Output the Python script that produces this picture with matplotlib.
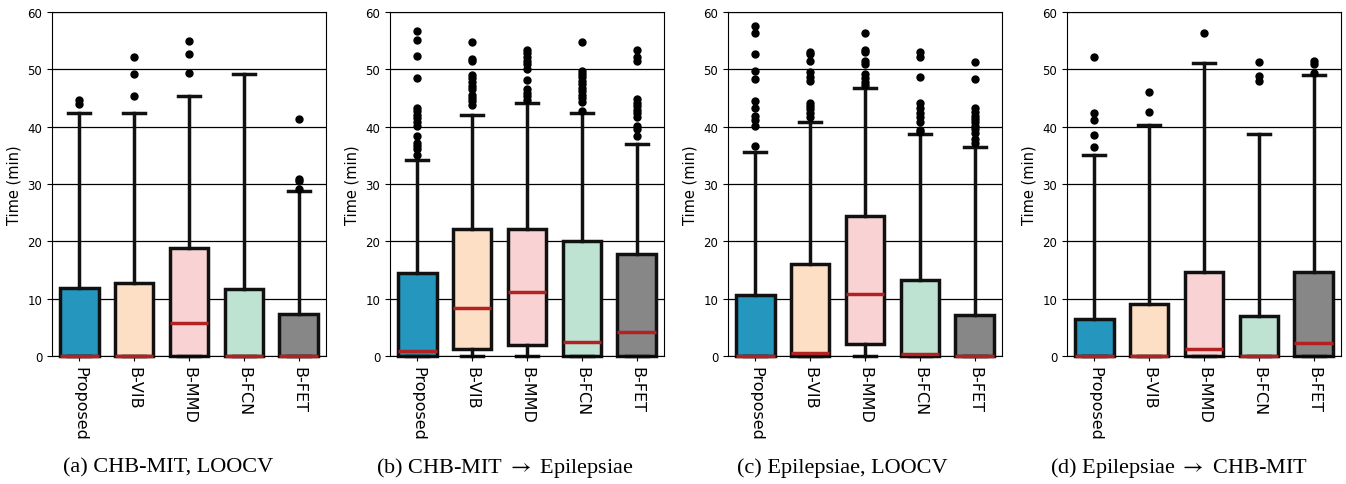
import matplotlib
matplotlib.use("Agg")
import matplotlib.pyplot as plt

methods = ["Proposed", "B-VIB", "B-MMD", "B-FCN", "B-FET"]
box_colors = ["#2596be", "#fddfc5", "#f9d3d3", "#bfe3d3", "#878787"]
captions = ["(a) CHB-MIT, LOOCV", r"(b) CHB-MIT $\rightarrow$ Epilepsiae",
            "(c) Epilepsiae, LOOCV", r"(d) Epilepsiae $\rightarrow$ CHB-MIT"]

# (a) CHB-MIT, LOOCV
a_q1 = [0, 0, 0, 0, 0]
a_med = [0, 0, 5.7, 0, 0]
a_q3 = [11.9, 12.7, 18.9, 11.7, 7.4]
a_lo = [0, 0, 0, 0, 0]
a_hi = [42.3, 42.3, 45.3, 49.2, 28.8]
a_fl = [[44.6, 43.9], [52.2, 49.2, 45.4], [55.0, 52.7, 49.3], [],
        [41.3, 30.8, 30.5, 29.2]]

# (b) CHB-MIT -> Epilepsiae
b_q1 = [0, 1.2, 1.9, 0, 0]
b_med = [0.8, 8.4, 11.1, 2.4, 4.1]
b_q3 = [14.4, 22.1, 22.2, 20.0, 17.8]
b_lo = [0, 0, 0, 0, 0]
b_hi = [34.2, 42.1, 44.1, 42.4, 36.9]
b_fl = [[56.7, 55.2, 52.4, 48.5, 43.3, 42.7, 42.1, 41.5, 40.9, 40.2, 38.3, 37.2, 36.7, 36.1, 35.1],
        [54.8, 51.8, 51.4, 49.0, 48.5, 47.8, 47.1, 46.5, 45.5, 45.0, 44.5, 43.8],
        [53.4, 52.9, 52.2, 51.5, 50.9, 50.1, 48.1, 46.5, 45.9, 45.3, 44.7],
        [54.8, 49.7, 49.2, 48.6, 48.0, 47.4, 46.8, 46.2, 45.5, 45.0, 44.3, 42.7],
        [53.4, 52.1, 51.5, 44.8, 44.1, 43.6, 42.9, 42.3, 41.6, 40.1, 39.6, 38.3]]

# (c) Epilepsiae, LOOCV
c_q1 = [0, 0, 2.15, 0, 0]
c_med = [0, 0.5, 10.9, 0.4, 0]
c_q3 = [10.7, 16.0, 24.5, 13.2, 7.2]
c_lo = [0, 0, 0, 0, 0]
c_hi = [35.5, 40.9, 46.7, 38.7, 36.5]
c_fl = [[57.5, 56.3, 52.6, 49.7, 48.3, 44.5, 43.3, 41.9, 41.2, 40.1, 36.6],
        [53.1, 52.7, 51.4, 49.6, 48.6, 47.9, 44.1, 43.6, 43.0, 42.3, 41.6],
        [56.3, 53.4, 53.0, 51.4, 51.0, 49.2, 48.5, 47.8, 47.2],
        [53.1, 52.1, 48.6, 44.1, 43.2, 42.3, 41.6, 40.8, 39.5, 39.1],
        [51.3, 48.3, 43.2, 42.6, 41.9, 41.4, 40.8, 40.2, 39.6, 38.9, 37.9, 37.2]]

# (d) Epilepsiae -> CHB-MIT
d_q1 = [0, 0, 0, 0, 0]
d_med = [0, 0, 1.2, 0, 2.3]
d_q3 = [6.5, 9.0, 14.6, 7.05, 14.7]
d_lo = [0, 0, 0, 0, 0]
d_hi = [35.1, 40.3, 51.1, 38.7, 49.0]
d_fl = [[52.1, 42.4, 41.1, 38.6, 36.5], [46.0, 42.6], [56.3],
        [51.3, 48.8, 48.0], [51.4, 50.9, 49.4]]

panels = [(a_q1, a_med, a_q3, a_lo, a_hi, a_fl),
          (b_q1, b_med, b_q3, b_lo, b_hi, b_fl),
          (c_q1, c_med, c_q3, c_lo, c_hi, c_fl),
          (d_q1, d_med, d_q3, d_lo, d_hi, d_fl)]

W, H = 1346, 485
fig = plt.figure(figsize=(W / 100, H / 100), dpi=100)
lefts = [52, 390, 728, 1067]
ax_w = 274
top_px, bot_px = 13, 357

for i, (q1, med, q3, lo, hi, fl) in enumerate(panels):
    ax = fig.add_axes([lefts[i] / W, 1 - bot_px / H, ax_w / W, (bot_px - top_px) / H])
    stats = []
    for k, name in enumerate(methods):
        stats.append(dict(label=name, q1=q1[k], med=med[k], q3=q3[k],
                          whislo=lo[k], whishi=hi[k], fliers=fl[k]))
    ax.set_axisbelow(True)
    ax.yaxis.grid(True, color="black", linewidth=0.9)
    bp = ax.bxp(stats, positions=range(1, 6), widths=0.7, patch_artist=True,
                capwidths=0.4,
                boxprops=dict(linewidth=2.5, edgecolor="#111111"),
                whiskerprops=dict(linewidth=2.5, color="#111111"),
                capprops=dict(linewidth=2.5, color="#111111"),
                medianprops=dict(linewidth=2.5, color="#b22222"),
                flierprops=dict(marker="o", markerfacecolor="black",
                                markeredgecolor="black", markersize=5))
    for patch, col in zip(bp["boxes"], box_colors):
        patch.set_facecolor(col)
    for key in ("boxes", "whiskers", "caps", "medians", "fliers"):
        for art in bp[key]:
            art.set_clip_on(False)
    for m in bp["medians"]:
        m.set_zorder(5)
    ax.set_xlim(0.5, 5.5)
    ax.set_ylim(0, 60)
    ax.set_yticks([0, 10, 20, 30, 40, 50, 60])
    ax.tick_params(axis="y", labelsize=8.5)
    ax.tick_params(axis="x", labelsize=11.5, labelrotation=-90)
    ax.set_ylabel("Time (min)", fontsize=10.5)
    fig.text((337 * i + 168) / W, 17 / H, captions[i], ha="center", va="center",
             fontsize=16, family=["Liberation Serif", "DejaVu Serif"],
             math_fontfamily="stix")

fig.savefig("out.png", dpi=100)
